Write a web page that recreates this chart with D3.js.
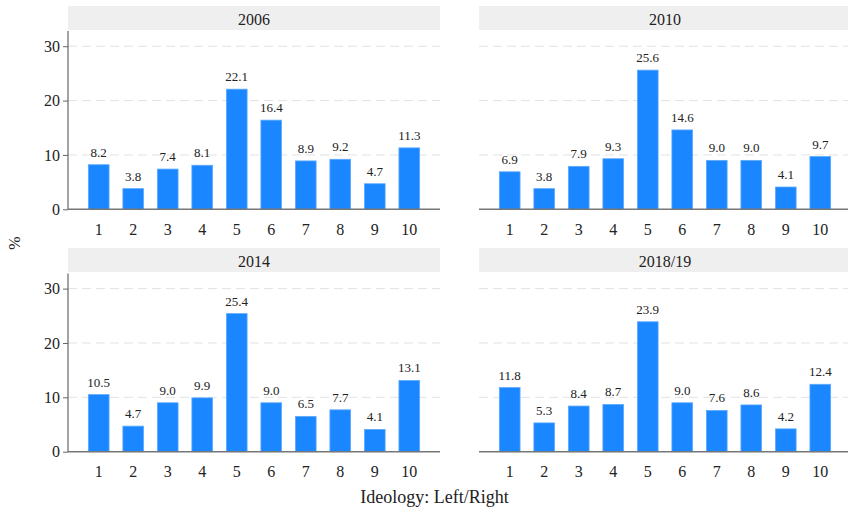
<!DOCTYPE html>
<html>
<head>
<meta charset="utf-8">
<script src="https://cdn.jsdelivr.net/npm/d3@7"></script>
<style>
  body { margin: 0; background: #fff; }
  text { font-family: "Liberation Serif", "Times New Roman", serif; fill: #222; }
</style>
</head>
<body>
<svg id="chart" width="848" height="509"></svg>
<script>
// Ideology self-placement (1 = left, 10 = right), share of respondents in %
const categories = ["1", "2", "3", "4", "5", "6", "7", "8", "9", "10"];
const waves = ["2006", "2010", "2014", "2018/19"];
const values2006 = [8.2, 3.8, 7.4, 8.1, 22.1, 16.4, 8.9, 9.2, 4.7, 11.3];
const values2010 = [6.9, 3.8, 7.9, 9.3, 25.6, 14.6, 9.0, 9.0, 4.1, 9.7];
const values2014 = [10.5, 4.7, 9.0, 9.9, 25.4, 9.0, 6.5, 7.7, 4.1, 13.1];
const values2019 = [11.8, 5.3, 8.4, 8.7, 23.9, 9.0, 7.6, 8.6, 4.2, 12.4];
const yTicks = [0, 10, 20, 30];
const seriesByWave = [values2006, values2010, values2014, values2019];

const svg = d3.select("#chart");

const cols = [[68, 440], [479, 851]];
const rows = [
  { head: [6, 30], plot: [209.3, 31] },
  { head: [248, 272], plot: [451.7, 273.4] }
];
const yMax = 32.8;
const barColor = "#1a86ff";

waves.forEach((wave, i) => {
  const col = cols[i % 2];
  const row = rows[Math.floor(i / 2)];
  const values = seriesByWave[i];
  const g = svg.append("g");

  const x = d3.scaleBand().domain(categories).range(col)
    .paddingInner(0.4).paddingOuter(0.59);
  const y = d3.scaleLinear().domain([0, yMax]).range(row.plot);

  // panel header strip
  g.append("rect")
    .attr("x", col[0]).attr("y", row.head[0])
    .attr("width", col[1] - col[0]).attr("height", row.head[1] - row.head[0])
    .attr("fill", "#efefef");
  g.append("text")
    .attr("x", (col[0] + col[1]) / 2).attr("y", row.head[1] - 5)
    .attr("text-anchor", "middle").attr("font-size", 16)
    .text(wave);

  // dashed gridlines
  g.selectAll(".grid").data(yTicks.filter(t => t > 0)).join("line")
    .attr("x1", col[0]).attr("x2", col[1])
    .attr("y1", d => y(d)).attr("y2", d => y(d))
    .attr("stroke", "#e2e2e2").attr("stroke-width", 1)
    .attr("stroke-dasharray", "9,5");

  // bars
  g.selectAll(".bar").data(values).join("rect")
    .attr("x", (d, j) => x(categories[j]))
    .attr("width", x.bandwidth())
    .attr("y", d => y(d))
    .attr("height", d => y(0) - y(d))
    .attr("fill", barColor)
    .attr("stroke", "#5eaaff").attr("stroke-width", 0.8);

  // value labels
  g.selectAll(".lbl").data(values).join("text")
    .attr("x", (d, j) => x(categories[j]) + x.bandwidth() / 2)
    .attr("y", d => y(d) - 8)
    .attr("text-anchor", "middle").attr("font-size", 13)
    .text(d => d.toFixed(1));

  // x axis
  const xAxis = g.append("g")
    .attr("transform", `translate(0,${y(0)})`)
    .call(d3.axisBottom(x).tickSize(0).tickPadding(14));
  xAxis.select(".domain").attr("stroke", "#777").attr("stroke-width", 1.5)
    .attr("d", `M${col[0]},0H${col[1]}`);
  xAxis.selectAll("text").attr("font-size", 16).attr("fill", "#222")
    .attr("font-family", "Liberation Serif, Times New Roman, serif");

  // y axis on the left column only
  if (i % 2 === 0) {
    const yAxis = g.append("g")
      .attr("transform", `translate(${col[0]},0)`)
      .call(d3.axisLeft(y).tickValues(yTicks).tickSize(5).tickPadding(3));
    yAxis.select(".domain").attr("stroke", "#666").attr("stroke-width", 1.2)
      .attr("d", `M0,${row.plot[0]}V${row.plot[1]}`);
    yAxis.selectAll(".tick line").attr("stroke", "#666");
    yAxis.selectAll("text").attr("font-size", 16).attr("fill", "#222")
      .attr("font-family", "Liberation Serif, Times New Roman, serif");
  }
});

// shared axis titles
svg.append("text")
  .attr("transform", "translate(20,243) rotate(-90)")
  .attr("text-anchor", "middle").attr("font-size", 16)
  .text("%");
svg.append("text")
  .attr("x", 434.5).attr("y", 503)
  .attr("text-anchor", "middle").attr("font-size", 18)
  .text("Ideology: Left/Right");
</script>
</body>
</html>
